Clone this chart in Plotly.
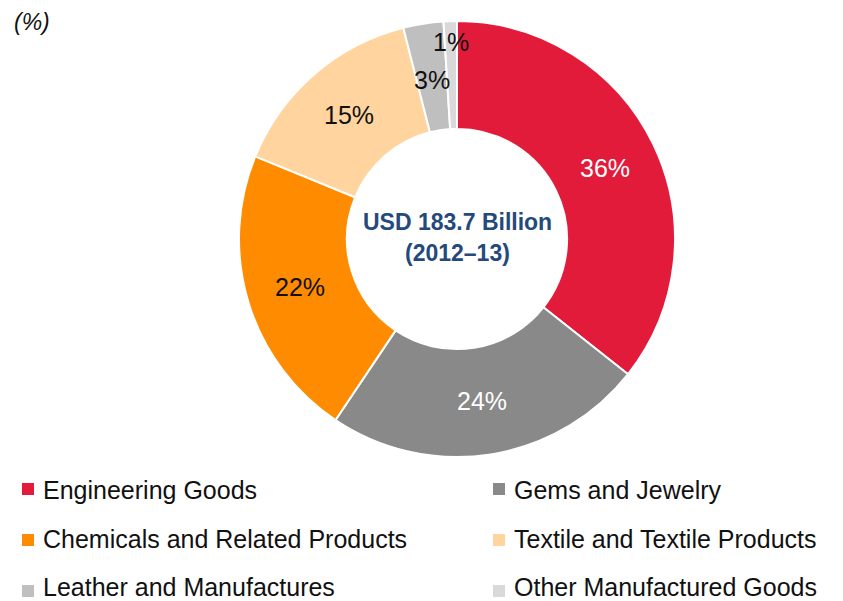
import math
import plotly.graph_objects as go

# Export composition, 2012-13 (share of total, %)
categories = [
    "Engineering Goods",
    "Gems and Jewelry",
    "Chemicals and Related Products",
    "Textile and Textile Products",
    "Leather and Manufactures",
    "Other Manufactured Goods",
]
shares = [36, 24, 22, 15, 3, 1]
colors = ["#E31B3B", "#898989", "#FF8C00", "#FFD49E", "#BFBFBF", "#D9D9D9"]
label_colors = ["#FFFFFF", "#FFFFFF", "#111111", "#111111", "#111111", "#111111"]
center_lines = ["USD 183.7 Billion", "(2012–13)"]
unit_note = "(%)"

W, H = 843, 601
CX, CY, R = 457, 239, 218          # donut centre / outer radius in pixels
HOLE = 0.505
label_radius = [164, 164, 164, 164, 161, 197]
FONT = "Liberation Sans, Arial, sans-serif"


def px(x):
    return x / W


def py(y):
    return 1 - y / H


fig = go.Figure(
    go.Pie(
        labels=categories,
        values=shares,
        sort=False,
        direction="clockwise",
        rotation=0,
        hole=HOLE,
        marker=dict(colors=colors, line=dict(color="#FFFFFF", width=2)),
        textinfo="none",
        hoverinfo="label+percent",
        showlegend=False,
        domain=dict(x=[px(CX - R), px(CX + R)], y=[py(CY + R), py(CY - R)]),
    )
)

annotations = []

# percentage labels, placed at each slice's mid-angle
total = sum(shares)
cum = 0
for val, col, rad in zip(shares, label_colors, label_radius):
    mid = (cum + val / 2) / total * 2 * math.pi
    cum += val
    lx = CX + rad * math.sin(mid)
    ly = CY - rad * math.cos(mid)
    annotations.append(dict(
        x=px(lx), y=py(ly), xref="paper", yref="paper",
        text=f"{val}%", showarrow=False, xanchor="center", yanchor="middle",
        font=dict(family=FONT, size=25, color=col),
    ))

# centre caption
for i, line in enumerate(center_lines):
    annotations.append(dict(
        x=px(CX), y=py(222 + 31 * i), xref="paper", yref="paper",
        text=f"<b>{line}</b>", showarrow=False, xanchor="center", yanchor="middle",
        font=dict(family=FONT, size=23, color="#24497A"),
    ))

# unit note
annotations.append(dict(
    x=px(12), y=py(22), xref="paper", yref="paper",
    text=f"<i>{unit_note}</i>", showarrow=False, xanchor="left", yanchor="middle",
    font=dict(family=FONT, size=23, color="#111111"),
))

# two-column legend built from the categories
shapes = []
col_x = [22, 493]
marker_y = [489, 540, 591]
text_y = [490, 539, 587]
for i, (name, col) in enumerate(zip(categories, colors)):
    mx = col_x[i % 2]
    row = i // 2
    shapes.append(dict(
        type="rect", xref="paper", yref="paper",
        x0=px(mx), x1=px(mx + 12),
        y0=py(marker_y[row] + 6), y1=py(marker_y[row] - 6),
        fillcolor=col, line=dict(width=0),
    ))
    annotations.append(dict(
        x=px(mx + 19), y=py(text_y[row]), xref="paper", yref="paper",
        text=name, showarrow=False, xanchor="left", yanchor="middle",
        font=dict(family=FONT, size=25, color="#111111"),
    ))

fig.update_layout(
    width=W, height=H,
    margin=dict(l=0, r=0, t=0, b=0),
    paper_bgcolor="#FFFFFF",
    plot_bgcolor="#FFFFFF",
    annotations=annotations,
    shapes=shapes,
)

fig.write_html("out.html")
